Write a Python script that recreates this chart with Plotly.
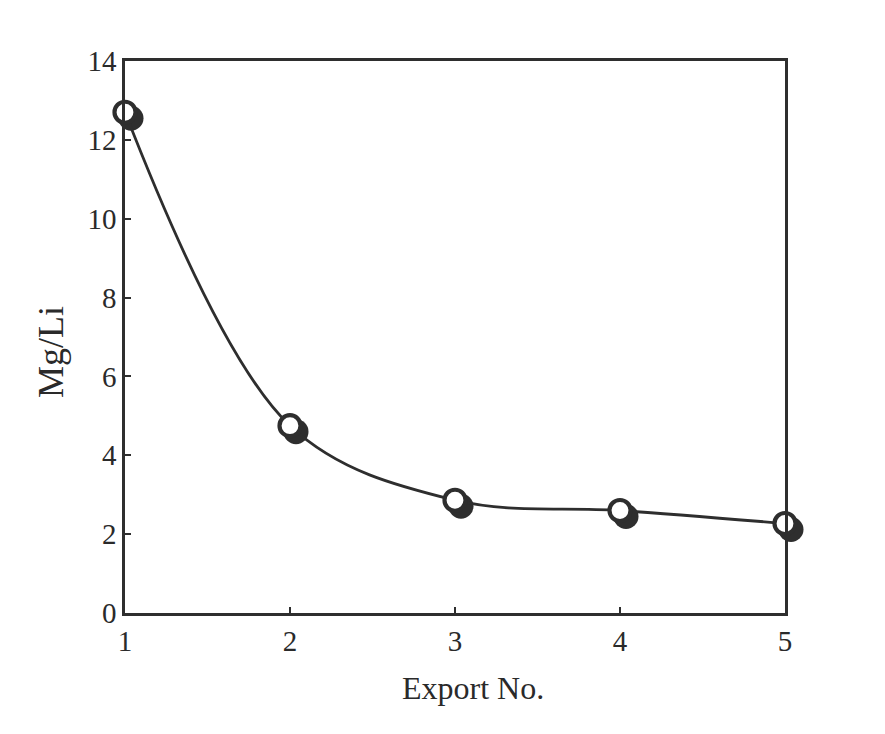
import plotly.graph_objects as go

export_no = [1, 2, 3, 4, 5]
mg_li = [12.7, 4.75, 2.86, 2.6, 2.27]
x_title = "Export No."
y_title = "Mg/Li"

W, H = 885, 734
# target plot area (page pixels): left 124, right 784, top 60, bottom 612
ml, mt = 117, 53
pw, ph = 660, 552
shx, shy = 6, 6            # shadow offset in pixels
tot_w = pw + shx
mr = W - ml - tot_w
mb = H - mt - ph
fx = shx / tot_w
sy = shy / ph * 14         # y shift in data units

tick_font = dict(family="Liberation Serif", size=29, color="#2a2a2a")
xtitle_font = dict(family="Liberation Serif", size=32, color="#2a2a2a")
ytitle_font = dict(family="Liberation Serif", size=36, color="#2a2a2a")
ink = "#2e2e2e"

fig = go.Figure()
# shadow markers on a pixel-offset hidden axis pair (drawn underneath)
fig.add_trace(go.Scatter(x=export_no, y=mg_li, mode="markers", xaxis="x", yaxis="y",
                         marker=dict(size=25, color=ink, line=dict(width=0)),
                         cliponaxis=False, showlegend=False, hoverinfo="skip"))
fig.add_trace(go.Scatter(x=export_no, y=mg_li, mode="lines", xaxis="x2", yaxis="y2",
                         line=dict(shape="spline", smoothing=1.0, color=ink, width=2.8),
                         cliponaxis=False, showlegend=False))
fig.add_trace(go.Scatter(x=export_no, y=mg_li, mode="markers", xaxis="x2", yaxis="y2",
                         marker=dict(size=21, color="white", line=dict(width=4.2, color=ink)),
                         cliponaxis=False, showlegend=False))

axis_common = dict(showgrid=False, zeroline=False, showline=True, linecolor=ink, linewidth=2.5,
                   mirror=True, ticks="inside", ticklen=6, tickwidth=2, tickcolor=ink,
                   tickfont=tick_font)
fig.update_layout(
    width=W, height=H, margin=dict(l=ml, r=mr, t=mt, b=mb),
    paper_bgcolor="white", plot_bgcolor="rgba(0,0,0,0)",
    xaxis=dict(range=[1, 5], domain=[fx, 1], anchor="y", visible=False),
    yaxis=dict(range=[0 + sy, 14 + sy], domain=[0, 1], anchor="x", visible=False),
    xaxis2=dict(range=[1, 5], tickvals=[1, 2, 3, 4, 5], domain=[0, 1 - fx], anchor="y2",
                **axis_common),
    yaxis2=dict(range=[0, 14], tickvals=[0, 2, 4, 6, 8, 10, 12, 14], domain=[0, 1], anchor="x2",
                **axis_common),
    annotations=[
        dict(text=x_title, xref="paper", yref="paper", x=0.523, y=-0.136,
             xanchor="center", yanchor="middle", showarrow=False, font=xtitle_font),
        dict(text=y_title, xref="paper", yref="paper", x=-0.111, y=0.473, textangle=-90,
             xanchor="center", yanchor="middle", showarrow=False, font=ytitle_font),
    ],
)
fig.write_html("out.html")
